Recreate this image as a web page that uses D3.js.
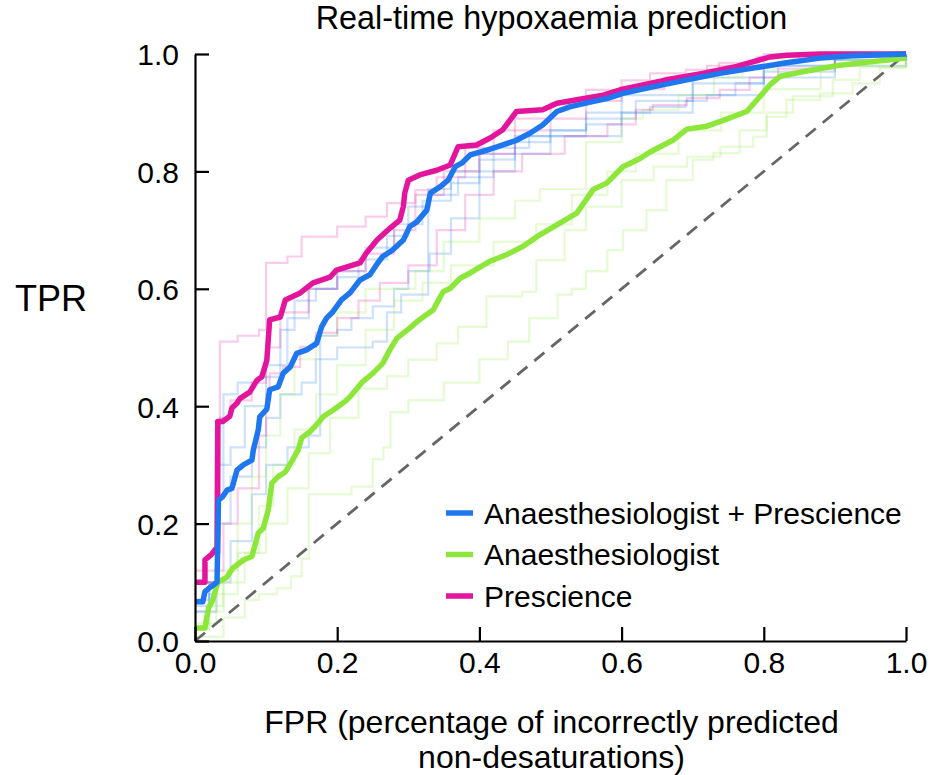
<!DOCTYPE html>
<html>
<head>
<meta charset="utf-8">
<script src="https://cdn.jsdelivr.net/npm/d3@7"></script>
<style>
  body { margin: 0; background: #fff; }
  svg text { font-family: "Liberation Sans", Arial, Helvetica, sans-serif; fill: #000; }
</style>
</head>
<body>
<div id="chart"></div>
<script>
// Our canvas
const width = 931,
  height = 775,
  plotLeft = 195, plotRight = 906,
  plotTop = 54, plotBottom = 641

// Series names (legend order)
const seriesNames = ['Anaesthesiologist + Prescience', 'Anaesthesiologist', 'Prescience']
const seriesColors = ['#1f77f0', '#8de63a', '#e3159c']
const xTicks = [0, 0.2, 0.4, 0.6, 0.8, 1.0]
const yTicks = [0, 0.2, 0.4, 0.6, 0.8, 1.0]

// mean ROC curves, [FPR, TPR]
const comboMain = [[0,.067],[.011,.067],[.014,.084],[.023,.093],[.031,.10],[.033,.24],[.039,.246],[.045,.257],[.052,.26],[.059,.291],[.068,.3],[.08,.308],[.082,.325],[.089,.36],[.091,.382],[.101,.395],[.105,.428],[.117,.433],[.124,.456],[.134,.467],[.143,.49],[.157,.496],[.171,.507],[.178,.535],[.185,.55],[.194,.561],[.206,.581],[.218,.593],[.232,.615],[.246,.624],[.257,.644],[.264,.655],[.278,.666],[.293,.683],[.302,.706],[.312,.714],[.326,.734],[.331,.763],[.345,.774],[.356,.785],[.366,.808],[.375,.814],[.387,.828],[.41,.836],[.433,.845],[.452,.853],[.471,.865],[.489,.879],[.509,.902],[.527,.91],[.556,.918],[.579,.924],[.602,.933],[.644,.944],[.692,.956],[.738,.967],[.785,.976],[.832,.985],[.879,.993],[.925,.997],[1,1]]
const anaesMain = [[0,.022],[.014,.022],[.019,.056],[.025,.07],[.032,.10],[.045,.109],[.053,.124],[.068,.138],[.08,.144],[.089,.184],[.096,.192],[.103,.223],[.108,.269],[.117,.28],[.127,.288],[.136,.306],[.145,.325],[.15,.346],[.162,.357],[.173,.371],[.18,.382],[.194,.393],[.211,.408],[.218,.416],[.236,.442],[.25,.456],[.264,.473],[.274,.496],[.284,.516],[.302,.533],[.312,.544],[.321,.552],[.335,.564],[.349,.595],[.359,.601],[.373,.618],[.387,.627],[.415,.647],[.438,.658],[.461,.672],[.485,.692],[.509,.709],[.537,.729],[.56,.769],[.579,.78],[.602,.808],[.626,.822],[.64,.833],[.672,.853],[.692,.872],[.72,.877],[.743,.887],[.776,.902],[.795,.928],[.809,.948],[.823,.962],[.86,.971],[.907,.981],[.954,.987],[1,.993]]
const prescMain = [[0,.10],[.014,.10],[.014,.138],[.023,.147],[.031,.16],[.032,.374],[.039,.374],[.049,.383],[.052,.397],[.059,.405],[.063,.413],[.077,.424],[.087,.444],[.094,.45],[.101,.478],[.105,.547],[.12,.552],[.127,.581],[.148,.593],[.166,.61],[.19,.62],[.199,.632],[.232,.644],[.241,.661],[.256,.683],[.274,.703],[.288,.717],[.293,.74],[.295,.763],[.3,.785],[.316,.794],[.34,.802],[.359,.811],[.37,.842],[.396,.845],[.415,.857],[.433,.871],[.452,.902],[.489,.905],[.509,.916],[.537,.922],[.574,.93],[.598,.939],[.663,.956],[.714,.967],[.762,.979],[.809,.995],[.832,.998],[.88,1],[1,1]]

// individual fold curves (faint)
const comboFold1 = [[0,.06],[.01,.06],[.02,.10],[.03,.25],[.04,.42],[.06,.44],[.09,.45],[.12,.53],[.14,.58],[.17,.6],[.2,.63],[.24,.67],[.28,.71],[.32,.75],[.36,.78],[.4,.82],[.45,.85],[.5,.87],[.55,.9],[.6,.93],[.7,.96],[.8,.98],[.9,.995],[1,1]]
const comboFold2 = [[0,.05],[.02,.08],[.03,.2],[.05,.28],[.08,.33],[.1,.38],[.12,.42],[.15,.44],[.17,.48],[.2,.5],[.25,.51],[.27,.56],[.29,.56],[.29,.59],[.328,.59],[.328,.77],[.36,.8],[.4,.83],[.45,.86],[.5,.87],[.55,.88],[.6,.9],[.64,.91],[.69,.92],[.72,.93],[.76,.95],[.8,.97],[.9,.99],[1,1]]
const comboFold3 = [[0,.07],[.02,.1],[.03,.3],[.05,.33],[.07,.4],[.1,.47],[.13,.55],[.16,.6],[.2,.62],[.23,.65],[.27,.69],[.3,.74],[.33,.76],[.37,.79],[.42,.84],[.47,.86],[.55,.89],[.62,.92],[.7,.95],[.8,.98],[1,1]]
const comboFold4 = [[0,.05],[.03,.1],[.05,.17],[.08,.25],[.1,.3],[.13,.33],[.16,.35],[.176,.35],[.176,.52],[.2,.53],[.22,.55],[.25,.57],[.28,.6],[.3,.63],[.33,.66],[.36,.72],[.4,.8],[.45,.83],[.5,.86],[.6,.9],[.7,.93],[.8,.96],[.9,.99],[1,1]]
const anaesFold1 = [[0,.02],[.02,.06],[.04,.12],[.06,.2],[.08,.28],[.1,.35],[.12,.42],[.14,.48],[.17,.52],[.2,.56],[.24,.6],[.31,.63],[.35,.68],[.4,.72],[.45,.75],[.485,.77],[.55,.85],[.6,.89],[.63,.905],[.68,.93],[.73,.96],[.77,.975],[.82,.99],[1,1]]
const anaesFold2 = [[0,.03],[.03,.08],[.06,.15],[.09,.23],[.11,.3],[.14,.36],[.17,.42],[.2,.47],[.24,.53],[.28,.58],[.32,.61],[.36,.64],[.42,.68],[.48,.71],[.53,.76],[.58,.8],[.62,.83],[.68,.87],[.74,.9],[.8,.94],[.88,.98],[1,.99]]
const anaesFold3 = [[0,.02],[.02,.05],[.04,.1],[.07,.15],[.1,.2],[.13,.26],[.16,.32],[.19,.38],[.23,.43],[.27,.451],[.3,.479],[.34,.507],[.37,.535],[.41,.564],[.41,.587],[.46,.595],[.48,.649],[.52,.7],[.55,.74],[.6,.785],[.645,.808],[.692,.825],[.739,.842],[.785,.859],[.804,.893],[.832,.922],[.879,.933],[.925,.95],[.963,.977],[1,.99]]
const anaesFold4 = [[0,.007],[.025,.007],[.04,.04],[.07,.07],[.09,.08],[.115,.09],[.135,.11],[.15,.14],[.16,.25],[.19,.25],[.22,.263],[.25,.27],[.25,.31],[.265,.33],[.275,.39],[.3,.41],[.35,.44],[.4,.48],[.44,.51],[.47,.55],[.51,.59],[.53,.6],[.55,.63],[.58,.666],[.602,.7],[.635,.734],[.663,.785],[.7,.82],[.729,.831],[.766,.87],[.804,.9],[.841,.928],[.897,.956],[.935,.977],[1,.99]]
const prescFold1 = [[0,.1],[.02,.1],[.03,.18],[.035,.51],[.06,.52],[.09,.53],[.1,.644],[.13,.655],[.15,.689],[.2,.706],[.24,.723],[.27,.746],[.31,.768],[.34,.79],[.38,.84],[.42,.87],[.45,.89],[.5,.916],[.55,.939],[.6,.955],[.64,.967],[.69,.973],[.737,.985],[.79,.995],[.85,1],[1,1]]
const prescFold2 = [[0,.1],[.03,.12],[.04,.2],[.06,.26],[.09,.35],[.1,.42],[.105,.456],[.124,.467],[.148,.501],[.17,.525],[.2,.55],[.23,.58],[.26,.61],[.3,.64],[.34,.7],[.38,.76],[.42,.8],[.46,.83],[.52,.86],[.58,.88],[.62,.905],[.644,.913],[.692,.925],[.738,.939],[.78,.96],[.82,.975],[.9,.995],[1,1]]
const prescFold3 = [[0,.12],[.03,.15],[.035,.38],[.05,.41],[.08,.44],[.1,.5],[.12,.56],[.16,.6],[.2,.63],[.24,.66],[.28,.7],[.31,.76],[.35,.8],[.4,.83],[.45,.87],[.5,.89],[.55,.92],[.6,.94],[.66,.96],[.72,.98],[.8,1],[1,1]]

const foldSets = [
  [comboFold1, comboFold2, comboFold3, comboFold4],
  [anaesFold1, anaesFold2, anaesFold3, anaesFold4],
  [prescFold1, prescFold2, prescFold3]
]
const mainCurves = [comboMain, anaesMain, prescMain]

// Drawing area
let svg = d3.select('#chart')
  .append('svg')
  .attr('width', width)
  .attr('height', height)

const xScale = d3.scaleLinear().domain([0, 1]).range([plotLeft, plotRight])
const yScale = d3.scaleLinear().domain([0, 1]).range([plotBottom, plotTop])

const stepLine = d3.line()
  .x(d => xScale(d[0]))
  .y(d => yScale(d[1]))
  .curve(d3.curveStepAfter)

const line = d3.line()
  .x(d => xScale(d[0]))
  .y(d => yScale(d[1]))

// faint fold lines
foldSets.forEach((folds, i) => {
  svg.append('g')
    .selectAll('path')
    .data(folds)
    .enter()
    .append('path')
    .attr('d', d => stepLine(d))
    .attr('fill', 'none')
    .attr('stroke', seriesColors[i])
    .attr('stroke-opacity', 0.22)
    .attr('stroke-width', 2.2)
})

// chance line
svg.append('path')
  .attr('d', line([[0, 0], [1, 1]]))
  .attr('fill', 'none')
  .attr('stroke', '#666')
  .attr('stroke-width', 2.8)
  .attr('stroke-dasharray', '13,9')

// main curves: pink, green, blue on top
;[2, 1, 0].forEach(i => {
  svg.append('path')
    .attr('d', line(mainCurves[i]))
    .attr('fill', 'none')
    .attr('stroke', seriesColors[i])
    .attr('stroke-width', 5.5)
    .attr('stroke-linejoin', 'round')
})

// axes
let xAxis = svg.append('g')
  .attr('transform', `translate(0,${plotBottom})`)
  .call(d3.axisBottom(xScale).tickValues(xTicks).tickSizeInner(-14).tickSizeOuter(0).tickFormat(d3.format('.1f')))
xAxis.selectAll('text')
  .attr('y', 32)
  .attr('dy', 0)
  .style('font-size', '30px')
  .style('font-family', '"Liberation Sans", Arial, sans-serif')

let yAxis = svg.append('g')
  .attr('transform', `translate(${plotLeft},0)`)
  .call(d3.axisLeft(yScale).tickValues(yTicks).tickSizeInner(-14).tickSizeOuter(0).tickFormat(d3.format('.1f')))
yAxis.selectAll('text')
  .attr('x', -16)
  .attr('dy', '0.36em')
  .style('font-size', '30px')
  .style('font-family', '"Liberation Sans", Arial, sans-serif')

svg.selectAll('.domain, .tick line')
  .attr('stroke', '#000')
  .attr('stroke-width', 2.2)

// titles
svg.append('text')
  .attr('x', (plotLeft + plotRight) / 2 + 1)
  .attr('y', 29)
  .attr('text-anchor', 'middle')
  .style('font-size', '32.4px')
  .text('Real-time hypoxaemia prediction')

svg.append('text')
  .attr('x', 15)
  .attr('y', 311)
  .style('font-size', '36px')
  .text('TPR')

svg.append('text')
  .attr('x', (plotLeft + plotRight) / 2 + 1)
  .attr('y', 733)
  .attr('text-anchor', 'middle')
  .style('font-size', '32px')
  .text('FPR (percentage of incorrectly predicted')

svg.append('text')
  .attr('x', (plotLeft + plotRight) / 2 + 1)
  .attr('y', 768)
  .attr('text-anchor', 'middle')
  .style('font-size', '32px')
  .text('non-desaturations)')

// legend
let legend = svg.append('g')
  .selectAll('g')
  .data(seriesNames)
  .enter()
  .append('g')
  .attr('transform', (d, i) => `translate(446,${513 + i * 41.5})`)

legend.append('line')
  .attr('x1', 0).attr('x2', 27)
  .attr('stroke', (d, i) => seriesColors[i])
  .attr('stroke-width', 5.5)

legend.append('text')
  .attr('x', 38)
  .attr('dy', '0.36em')
  .style('font-size', '30px')
  .text(d => d)
</script>
</body>
</html>
